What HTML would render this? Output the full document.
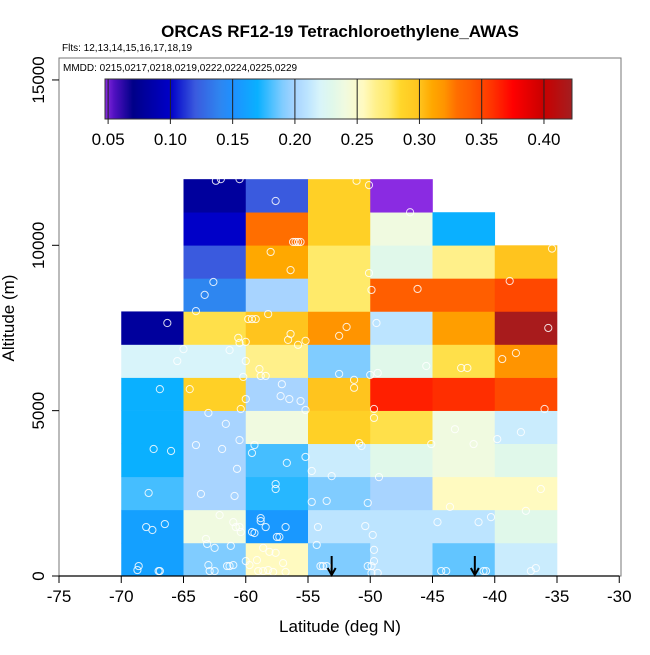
<!DOCTYPE html>
<html><head><meta charset="utf-8"><style>
body{margin:0;background:#fff}
svg text{font-family:"Liberation Sans",sans-serif}
</style></head><body>
<svg id="chart" width="650" height="650" xmlns="http://www.w3.org/2000/svg"></svg>
<script>
// ---- data ----
const latBins = [-70,-65,-60,-55,-50,-45,-40];
const altBins = [0,1000,2000,3000,4000,5000,6000,7000,8000,9000,10000,11000];
// values per column, from 0-1000 m upward; null = no data
const colVals = [
 [0.16,0.16,0.18,0.17,0.17,0.17,0.22,0.08,null,null,null,null],
 [0.19,0.24,0.20,0.20,0.20,0.29,0.22,0.28,0.14,0.12,0.10,0.08],
 [0.255,0.155,0.175,0.18,0.24,0.20,0.265,0.30,0.20,0.31,0.33,0.12],
 [0.19,0.21,0.19,0.215,0.29,0.30,0.19,0.32,0.275,0.275,0.29,0.29],
 [0.21,0.21,0.20,0.23,0.28,0.365,0.23,0.21,0.34,0.23,0.24,0.045],
 [0.185,0.21,0.255,0.24,0.24,0.36,0.28,0.315,0.34,0.265,0.17,null],
 [0.215,0.23,0.255,0.23,0.215,0.35,0.32,0.42,0.35,0.30,null,null]
];
const ptLat = [-62.4,-62,-60.5,-57.6,-51.1,-50.1,-46.8,-56.2,-56,-55.8,-55.6,-58,-56.4,-35.4,-50.1,-62.6,-63.3,-49.9,-46.2,-38.8,-64,-66.3,-59.8,-59.5,-59.2,-58.2,-56.4,-56.6,-60.6,-60.5,-60,-55.8,-55.2,-51.9,-52.5,-49.5,-35.7,-65,-61.3,-65.5,-60,-58.9,-58.8,-58.4,-60.2,-39.4,-38.3,-42.7,-42.2,-45.5,-52.5,-50,-49.4,-66.9,-64.5,-57.1,-57.2,-56.5,-55.6,-60,-51.3,-51.3,-60.4,-55.2,-49.7,-49.7,-36,-63,-61.6,-60.5,-64,-61.9,-60.7,-59.3,-59.5,-56.7,-67.4,-66,-50.9,-50.7,-45.1,-41.7,-43.2,-39.8,-37.9,-55.2,-54.7,-53.1,-49.3,-67.8,-63.6,-60.9,-57.6,-57.6,-54.7,-53.5,-50.2,-36.3,-43.6,-37.5,-68,-67.5,-66.5,-62.1,-61,-60.8,-60.5,-60.4,-58.8,-58.8,-58.4,-59.5,-59.3,-56.8,-57.5,-57.3,-54.2,-50.4,-49.8,-44.6,-41.3,-40.3,-63.2,-63.1,-62.5,-61.2,-58.6,-58.1,-57.6,-54.3,-49.7,-49.7,-60,-59.7,-59.1,-57,-68.6,-68.7,-67,-66.9,-63,-62.9,-62.5,-61.5,-61.3,-61,-59,-58.6,-58.2,-57.8,-56.8,-54,-53.8,-53.5,-50.2,-49.9,-49.9,-49.4,-44.3,-43.9,-40.9,-40.7,-37.1,-36.7];
const ptAlt = [11950,12000,12000,11340,11950,11820,11000,10100,10100,10100,10100,9800,9250,9900,9160,8890,8500,8650,8680,8920,8010,7650,7770,7770,7770,7920,7320,7140,7200,7050,7080,6990,7110,7530,7260,7650,7500,6860,6830,6500,6500,6260,6050,6050,6020,6560,6740,6290,6290,6350,6110,6080,6140,5650,5650,5800,5440,5350,5290,5350,5930,5690,5050,5020,5050,4780,5050,4930,4600,4110,3960,3840,3240,3960,3720,3420,3840,3780,4020,3930,3990,3990,4440,4140,4350,3600,3175,3020,2990,2510,2480,2420,2780,2630,2240,2270,2210,2630,2090,1970,1480,1390,1570,1840,1630,1480,1480,1330,1750,1660,1480,1330,1300,1480,1180,1180,1480,1510,1240,1630,1630,1780,1120,970,850,910,850,730,700,940,790,450,450,330,480,390,300,180,150,150,330,150,150,300,300,330,150,150,180,120,120,300,300,300,300,300,90,90,150,150,150,150,150,240];
const arrowLat = [-53.1,-41.6];
const xTicks = [-75,-70,-65,-60,-55,-50,-45,-40,-35,-30];
const yTicks = [0,5000,10000,15000];
const cbTicks = [0.05,0.10,0.15,0.20,0.25,0.30,0.35,0.40];
// colour scale stops
const stopV = [0.0475,0.055,0.07,0.10,0.12,0.14,0.15,0.17,0.19,0.20,0.21,0.22,0.23,0.24,0.255,0.265,0.275,0.285,0.30,0.31,0.32,0.33,0.34,0.35,0.36,0.375,0.40,0.4225];
const stopC = ["#8a2be2","#5010c0","#000088","#0000c8","#3a5ade","#2e86f0","#1e90ff","#0ab0ff","#80ccff","#a8d4ff","#bce4ff","#d8f4fa","#e0f8ea","#f0fae0","#fffac0","#fff08a","#ffea6a","#ffd62a","#ffc41e","#ffa800","#ff9400","#ff6e00","#ff5e00","#ff4800","#ff2e00","#ff0000","#c80000","#a41e20"];

// ---- helpers ----
const NS="http://www.w3.org/2000/svg", svg=document.getElementById('chart');
const X = lat => 59 + (lat+75)*12.45;
const Y = alt => 576 - alt*0.03307;
const CB = v => 105 + (v-0.0475)*1245.3;
function mk(tag, attrs, parent){const e=document.createElementNS(NS,tag);for(const k in attrs)e.setAttribute(k,attrs[k]);(parent||svg).appendChild(e);return e;}
function hex(c){return [1,3,5].map(i=>parseInt(c.substr(i,2),16));}
function color(v){
  if(v<=stopV[0])return stopC[0];
  for(let i=1;i<stopV.length;i++){ if(v<=stopV[i]){const t=(v-stopV[i-1])/(stopV[i]-stopV[i-1]);const a=hex(stopC[i-1]),b=hex(stopC[i]);return 'rgb('+a.map((x,j)=>Math.round(x+(b[j]-x)*t)).join(',')+')';}}
  return stopC[stopC.length-1];
}

// title & texts
let t=mk('text',{x:340,y:37,'text-anchor':'middle','font-size':17,'font-weight':'bold'});
t.textContent='ORCAS RF12-19 Tetrachloroethylene_AWAS';
t=mk('text',{x:62,y:51,'font-size':10});
t.textContent='Flts: 12,13,14,15,16,17,18,19';

// frame
let fr=mk('rect',{x:59,y:58,width:562,height:518,fill:'none',stroke:'#777','stroke-width':1});


// cells
const cg=mk('g',{});
latBins.forEach((lat,i)=>{altBins.forEach((alt,j)=>{const v=colVals[i][j];if(v==null)return;
  const r=mk('rect',{x:X(lat),y:Y(alt+1000),width:X(lat+5)-X(lat)+0.3,height:Y(alt)-Y(alt+1000)+0.3,fill:color(v)},cg);
  
  
});});

// points
const pg=mk('g',{});
ptLat.forEach((la,i)=>{const c=mk('circle',{cx:X(la),cy:Y(ptAlt[i]),r:3.6,fill:'none',stroke:'#fff','stroke-width':1,'stroke-opacity':0.85},pg);
  
  
});

// arrows
arrowLat.forEach(la=>{const g=mk('g',{stroke:'#000','stroke-width':2,fill:'none'});
  
  
  mk('line',{x1:X(la),y1:556,x2:X(la),y2:575},g);
  mk('polyline',{points:(X(la)-4)+',568 '+X(la)+',575 '+(X(la)+4)+',568'},g);
});

// legend box
t=mk('text',{x:63,y:71,'font-size':10});
t.textContent='MMDD: 0215,0217,0218,0219,0222,0224,0225,0229';
const defs=mk('defs',{});const lg=mk('linearGradient',{id:'cbg',x1:0,x2:1,y1:0,y2:0},defs);
stopV.forEach((v,i)=>mk('stop',{offset:((CB(v)-105)/467),'stop-color':stopC[i]},lg));
let cb=mk('rect',{x:105,y:79,width:467,height:40,fill:'url(#cbg)',stroke:'#333','stroke-width':1});

cbTicks.forEach(v=>{mk('line',{x1:CB(v),y1:79,x2:CB(v),y2:124,stroke:'#222','stroke-width':1});
  const tx=mk('text',{x:CB(v),y:145,'text-anchor':'middle','font-size':17});
  
  
  tx.textContent=v.toFixed(2);
});

// axes
let ax=mk('line',{x1:X(-75),y1:576,x2:X(-30),y2:576,stroke:'#000','stroke-width':1.2});

xTicks.forEach(v=>{mk('line',{x1:X(v),y1:576,x2:X(v),y2:583,stroke:'#000'});
  const tx=mk('text',{x:X(v),y:602,'text-anchor':'middle','font-size':17});
  
  
  tx.textContent=v;
});
yTicks.forEach(v=>{mk('line',{x1:52,y1:Y(v),x2:59,y2:Y(v),stroke:'#000'});
  const tx=mk('text',{x:0,y:0,'text-anchor':'middle','font-size':17,transform:'translate(44,'+Y(v)+') rotate(-90)'});
  
  
  tx.textContent=v;
});
t=mk('text',{x:340,y:632,'text-anchor':'middle','font-size':17});
t.textContent='Latitude (deg N)';
t=mk('text',{x:0,y:0,'text-anchor':'middle','font-size':17,transform:'translate(14,318) rotate(-90)'});
t.textContent='Altitude (m)';
</script>
</body></html>
